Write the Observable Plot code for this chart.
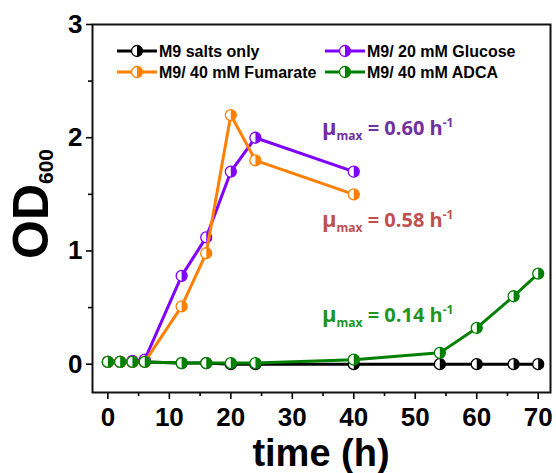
<!DOCTYPE html>
<html>
<head>
<meta charset="utf-8">
<script src="https://cdn.jsdelivr.net/npm/d3@7"></script>
<script src="https://cdn.jsdelivr.net/npm/@observablehq/plot@0.6"></script>
<style>
  html, body { margin: 0; padding: 0; background: #fff; }
</style>
</head>
<body>
<div id="chart"></div>
<script>
// ---- data ----
const seriesNames = ["M9 salts only", "M9/ 20 mM Glucose", "M9/ 40 mM Fumarate", "M9/ 40 mM ADCA"];
const seriesColors = ["#000000", "#8000ff", "#ff8000", "#008000"];

const timesLong = [0, 2, 4, 6, 12, 16, 20, 24, 40, 54, 60, 66, 70];
const timesShort = [0, 2, 4, 6, 12, 16, 20, 24, 40];

const saltsOnly = [0.02, 0.02, 0.02, 0.02, 0.01, 0.01, 0.00, 0.00, 0.00, 0.00, 0.00, 0.00, 0.00];
const glucose   = [0.02, 0.02, 0.03, 0.04, 0.78, 1.12, 1.70, 2.00, 1.70];
const fumarate  = [0.02, 0.02, 0.02, 0.02, 0.51, 0.98, 2.20, 1.80, 1.50];
const adca      = [0.02, 0.02, 0.02, 0.02, 0.01, 0.01, 0.01, 0.01, 0.04, 0.10, 0.32, 0.60, 0.80];

const xTicks = [0, 10, 20, 30, 40, 50, 60, 70];
const xMinorTicks = [5, 15, 25, 35, 45, 55, 65];
const yTicks = [0, 1, 2, 3];
const yMinorTicks = [0.5, 1.5, 2.5];

const muValues = ["0.60", "0.58", "0.14"];
const muColors = ["#7030a0", "#c0504d", "#1f941f"];

// ---- build table ----
const seriesValues = [saltsOnly, glucose, fumarate, adca];
const seriesTimes = [timesLong, timesShort, timesShort, timesLong];
const rows = [];
seriesNames.forEach((name, i) => {
  seriesValues[i].forEach((v, j) => rows.push({series: name, t: seriesTimes[i][j], od: v}));
});

// right-half disc symbol
const halfRight = {
  draw(ctx, size) {
    const r = Math.sqrt(size / Math.PI);
    ctx.moveTo(0, -r);
    ctx.arc(0, 0, r, -Math.PI / 2, Math.PI / 2);
    ctx.closePath();
  }
};

const seriesMarks = [];
seriesNames.forEach((name, i) => {
  const c = seriesColors[i];
  const f = d => d.series === name;
  seriesMarks.push(
    Plot.line(rows, {filter: f, x: "t", y: "od", stroke: c, strokeWidth: 3}),
    Plot.dot(rows, {filter: f, x: "t", y: "od", r: 5.5, fill: "white", stroke: c, strokeWidth: 1.3}),
    Plot.dot(rows, {filter: f, x: "t", y: "od", r: 5.5, fill: c, symbol: halfRight})
  );
});

const svg = Plot.plot({
  width: 556,
  height: 473,
  marginLeft: 92,
  marginRight: 6,
  marginTop: 24,
  marginBottom: 81,
  x: {domain: [-2.5, 72]},
  y: {domain: [-0.25, 3]},
  style: {fontFamily: "'Liberation Sans', Arial, sans-serif", fontSize: "26px", fontWeight: "bold", background: "white", color: "#000"},
  marks: [
    Plot.axisX(xTicks, {tickSize: 7, tickPadding: 8, strokeWidth: 1.6, tickFormat: d3.format("d"), label: null}),
    Plot.axisX(xMinorTicks, {tickSize: 4, strokeWidth: 1.6, tickFormat: () => "", label: null}),
    Plot.axisY(yTicks, {tickSize: 6, tickPadding: 4, strokeWidth: 1.6, tickFormat: d3.format("d"), label: null}),
    Plot.axisY(yMinorTicks, {tickSize: 4, strokeWidth: 1.6, tickFormat: () => "", label: null}),
    ...seriesMarks,
    Plot.frame({stroke: "#111", strokeWidth: 2})
  ]
});

const s = d3.select(svg);

// x-axis title
s.append("text")
  .attr("x", 321).attr("y", 466)
  .attr("text-anchor", "middle")
  .style("font", "bold 38px 'Liberation Sans', Arial, sans-serif")
  .attr("fill", "#000")
  .text("time (h)");

// y-axis title OD600
const yt = s.append("text")
  .attr("transform", "translate(48,259) rotate(-90)")
  .attr("text-anchor", "start")
  .style("font-family", "'Liberation Sans', Arial, sans-serif")
  .style("font-weight", "bold")
  .attr("fill", "#000");
yt.append("tspan").style("font-size", "50px").text("OD");
yt.append("tspan").style("font-size", "21px").attr("dy", 5).text("600");

// legend
const legX = [137, 345], legY = [51, 72];
seriesNames.forEach((name, i) => {
  const cx = legX[i % 2], cy = legY[Math.floor(i / 2)];
  const g = s.append("g");
  g.append("line").attr("x1", cx - 20).attr("x2", cx + 20).attr("y1", cy).attr("y2", cy)
    .attr("stroke", seriesColors[i]).attr("stroke-width", 3);
  g.append("circle").attr("cx", cx).attr("cy", cy).attr("r", 5.5)
    .attr("fill", "white").attr("stroke", seriesColors[i]).attr("stroke-width", 1.3);
  g.append("path").attr("transform", `translate(${cx},${cy})`)
    .attr("d", `M0,-5.5A5.5,5.5 0 0 1 0,5.5Z`).attr("fill", seriesColors[i]);
  g.append("text").attr("x", cx + 22).attr("y", cy).attr("dy", "0.36em")
    .attr("text-anchor", "start")
    .style("font", "bold 16px 'Liberation Sans', Arial, sans-serif")
    .attr("fill", "#000").text(name);
});

// mu_max annotations
const muY = [135, 227, 322];
muValues.forEach((v, i) => {
  const t = s.append("text").attr("x", 322).attr("y", muY[i])
    .attr("text-anchor", "start")
    .style("font-family", "'Open Sans', 'Liberation Sans', sans-serif")
    .style("font-weight", "bold")
    .attr("fill", muColors[i]);
  t.append("tspan").style("font-size", "22px").text("μ");
  t.append("tspan").style("font-size", "12px").attr("dy", 5).text("max");
  t.append("tspan").style("font-size", "20px").attr("dy", -5).text(` = ${v} h`);
  t.append("tspan").style("font-size", "12px").attr("dy", -8).text("-1");
});

document.getElementById("chart").appendChild(svg);
</script>
</body>
</html>
